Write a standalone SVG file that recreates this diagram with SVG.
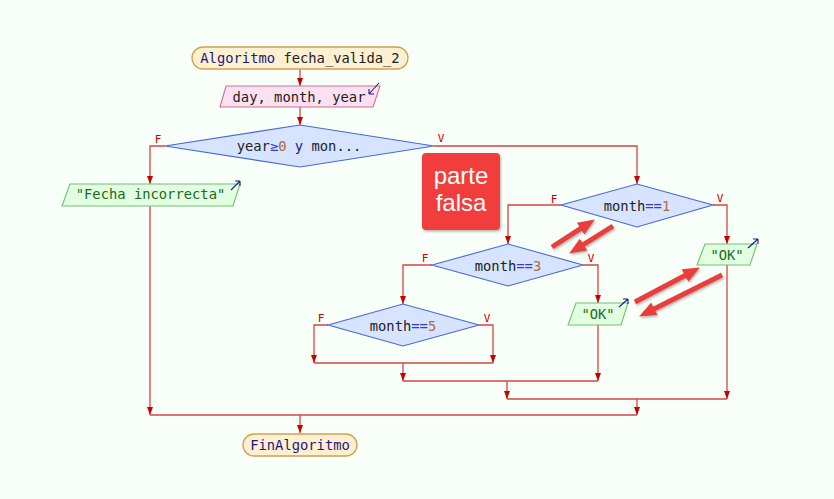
<svg xmlns="http://www.w3.org/2000/svg" width="834" height="499" viewBox="0 0 834 499">
<defs>
<style>
.bg{fill:#f8fff8}
.term{fill:#fff0d2;stroke:#d0a050;stroke-width:1.3}
.inp{fill:#ffe0f0;stroke:#c87098;stroke-width:1.1}
.out{fill:#e2ffe2;stroke:#6cc46c;stroke-width:1.1}
.dec{fill:#d6e4ff;stroke:#4a68d0;stroke-width:1.1}
.t{font-family:"DejaVu Sans Mono","Liberation Mono",monospace;font-size:13.8px;text-anchor:middle;fill:#222}
.kw{fill:#1a1a80}
.op{fill:#3a3ac8}
.num{fill:#b06a40}
.str{fill:#1a6a1a}
.lab{font-family:"DejaVu Sans Mono","Liberation Mono",monospace;font-size:11px;text-anchor:middle;fill:#cc0000}
.c{fill:none;stroke:#d64444;stroke-width:1.3}
.io{fill:none;stroke:#1a1a90;stroke-width:1.1}
.big{stroke:#ea3e3e;stroke-width:5;fill:none}
</style>
<marker id="ah" markerUnits="userSpaceOnUse" markerWidth="8" markerHeight="6" viewBox="0 0 8 6" refX="8" refY="3" orient="auto">
<path d="M0,0 L8,3 L0,6 Z" fill="#c80000"/>
</marker>
<marker id="bh" markerUnits="userSpaceOnUse" markerWidth="17" markerHeight="14" viewBox="0 0 17 14" refX="6" refY="7" orient="auto">
<path d="M0,0 L17,7 L0,14 Z" fill="#ea3e3e"/>
</marker>
<filter id="sh" x="-20%" y="-20%" width="140%" height="140%">
<feDropShadow dx="1" dy="1.5" stdDeviation="1" flood-color="#000" flood-opacity="0.3"/>
</filter>
</defs>
<rect class="bg" x="0" y="0" width="834" height="499"/>

<g id="connectors">
<path class="c" d="M300,69 V86" marker-end="url(#ah)"/>
<path class="c" d="M300,107 V125" marker-end="url(#ah)"/>
<path class="c" d="M165,146 H150 V184" marker-end="url(#ah)"/>
<path class="c" d="M150,206 V415" marker-end="url(#ah)"/>
<path class="c" d="M434,146 H637 V184" marker-end="url(#ah)"/>
<path class="c" d="M561,205 H508 V244" marker-end="url(#ah)"/>
<path class="c" d="M713,205 H727 V244" marker-end="url(#ah)"/>
<path class="c" d="M432,265 H403 V304" marker-end="url(#ah)"/>
<path class="c" d="M583,265 H598 V303" marker-end="url(#ah)"/>
<path class="c" d="M328,325 H314 V363" marker-end="url(#ah)"/>
<path class="c" d="M479,325 H493 V363" marker-end="url(#ah)"/>
<path class="c" d="M314,363 H493"/>
<path class="c" d="M403,363 V381" marker-end="url(#ah)"/>
<path class="c" d="M598,325 V381" marker-end="url(#ah)"/>
<path class="c" d="M403,381 H598"/>
<path class="c" d="M507,381 V399" marker-end="url(#ah)"/>
<path class="c" d="M727,265 V399" marker-end="url(#ah)"/>
<path class="c" d="M507,399 H727"/>
<path class="c" d="M637,399 V415" marker-end="url(#ah)"/>
<path class="c" d="M150,415 H637"/>
<path class="c" d="M300,415 V433" marker-end="url(#ah)"/>
<text class="lab" x="158" y="143">F</text>
<text class="lab" x="441" y="142">V</text>
<text class="lab" x="554" y="203">F</text>
<text class="lab" x="720" y="202">V</text>
<text class="lab" x="425" y="262">F</text>
<text class="lab" x="591" y="262">V</text>
<text class="lab" x="321" y="322">F</text>
<text class="lab" x="487" y="322">V</text>
</g>

<g id="start">
<rect class="term" x="192" y="47" width="216" height="22" rx="11"/>
<text class="t" x="300" y="62.5"><tspan class="kw">Algoritmo</tspan> fecha_valida_2</text>
</g>

<g id="read">
<polygon class="inp" points="226,86 380,86 373,107 220,107"/>
<text class="t" x="299" y="101.5">day, month, year</text>
<path class="io" d="M379,83 L369,94 M369,94 L369,89 M369,94 L374,94"/>
</g>

<g id="cond_year">
<polygon class="dec" points="165,146 300,125 434,146 300,167"/>
<text class="t" x="299" y="151">year<tspan class="op">≥</tspan><tspan class="num">0</tspan> <tspan class="kw">y</tspan> mon...</text>
</g>

<g id="out_incorrecta">
<polygon class="out" points="70,184 240,184 233,206 62,206"/>
<text class="t str" x="150.5" y="199">"Fecha incorrecta"</text>
<path class="io" d="M231,190 L240,181 M240,181 L235,181 M240,181 L240,186"/>
</g>

<g id="cond_month1">
<polygon class="dec" points="561,205 637,184 713,205 637,227"/>
<text class="t" x="637" y="210.5">month<tspan class="op">==</tspan><tspan class="num">1</tspan></text>
</g>

<g id="out_ok1">
<polygon class="out" points="705,244 757,244 750,265 697,265"/>
<text class="t str" x="727" y="259.5">"OK"</text>
<path class="io" d="M748,248 L758,239 M758,239 L753,239 M758,239 L758,244"/>
</g>

<g id="cond_month3">
<polygon class="dec" points="432,265 508,244 583,265 508,286"/>
<text class="t" x="508" y="270.5">month<tspan class="op">==</tspan><tspan class="num">3</tspan></text>
</g>

<g id="out_ok2">
<polygon class="out" points="576,303 628,303 621,325 568,325"/>
<text class="t str" x="598" y="319">"OK"</text>
<path class="io" d="M619,307 L628,299 M628,299 L623,299 M628,299 L628,304"/>
</g>

<g id="cond_month5">
<polygon class="dec" points="328,325 403,304 479,325 403,346"/>
<text class="t" x="403" y="330.5">month<tspan class="op">==</tspan><tspan class="num">5</tspan></text>
</g>

<g id="end">
<rect class="term" x="243" y="434" width="114" height="22" rx="11"/>
<text class="t kw" x="300" y="449.5">FinAlgoritmo</text>
</g>

<g id="callout">
<rect x="422" y="153" width="78" height="77" rx="4" fill="#f23e3e" filter="url(#sh)"/>
<text x="461" y="184" font-family="Liberation Sans,Arial,sans-serif" font-size="24" fill="#ffffff" text-anchor="middle">parte</text>
<text x="461" y="211" font-family="Liberation Sans,Arial,sans-serif" font-size="24" fill="#ffffff" text-anchor="middle">falsa</text>
</g>

<g id="red_arrows" filter="url(#sh)">
<line class="big" x1="552" y1="247" x2="585.6" y2="225.4" marker-end="url(#bh)"/>
<line class="big" x1="613" y1="226" x2="578.5" y2="247.7" marker-end="url(#bh)"/>
<line class="big" x1="635" y1="302" x2="690.2" y2="272.7" marker-end="url(#bh)"/>
<line class="big" x1="722" y1="275" x2="648.9" y2="311.5" marker-end="url(#bh)"/>
</g>
</svg>
